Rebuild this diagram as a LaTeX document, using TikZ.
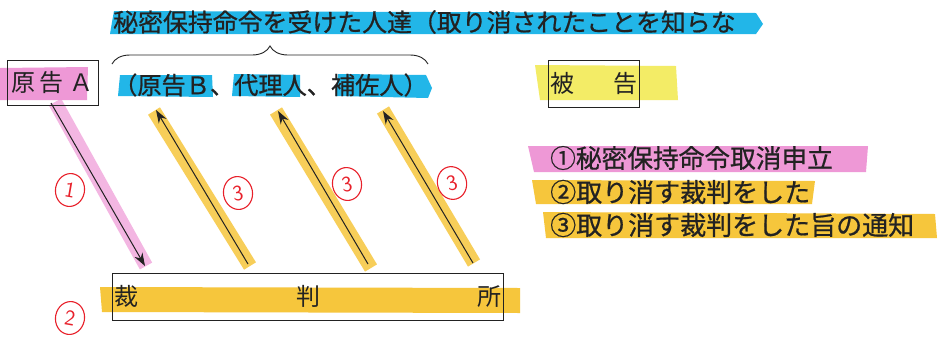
\documentclass[tikz,border=0pt]{standalone}
\usepackage{fontspec}
\newfontfamily\jp{Noto Sans CJK JP}
\newfontfamily\jpm[FakeBold=0.7]{Noto Sans CJK JP}
\usetikzlibrary{arrows.meta,decorations.pathreplacing,shapes.geometric}
\definecolor{cyanhl}{HTML}{22B6E8}
\definecolor{pinkhl}{HTML}{EE98D6}
\definecolor{yelhl}{HTML}{F6C63C}
\definecolor{lyelhl}{HTML}{F3EC66}
\definecolor{redpen}{HTML}{E8202A}
\definecolor{ink}{HTML}{222222}
\tikzset{
  jtext/.style={inner sep=0pt, text=ink, font=\jpm\fontsize{#1}{#1}\selectfont},
  jbox/.style={draw=ink, line width=0.9pt, inner sep=0pt, text=ink, font=\jp\fontsize{24}{24}\selectfont},
  arr/.style={draw=ink, line width=1pt, -{Stealth[length=13pt,width=9pt]}},
  hlstroke/.style={line width=14pt, opacity=0.85},
  circnum/.style={ellipse, draw=redpen, line width=1.1pt, minimum width=29pt, minimum height=33pt, inner sep=0pt, text=redpen, font=\sffamily\fontsize{22}{22}\selectfont}
}
\begin{document}
\begin{tikzpicture}[x=1pt,y=-1pt]
\useasboundingbox (0,0) rectangle (940,338);
\fill[white] (0,0) rectangle (940,338);

% highlights
\fill[cyanhl] (114,11) -- (756,13) -- (763,24) -- (756,34) -- (110,34) -- (112,22) -- cycle;
\fill[cyanhl] (120,75) -- (212,75) -- (213,97) -- (118,96) -- cycle;
\fill[cyanhl] (234,74) -- (300,75) -- (300,97) -- (232,96) -- cycle;
\fill[cyanhl] (338,74) -- (426,75) -- (432,88) -- (428,98) -- (336,96) -- cycle;
\fill[pinkhl] (0,68) -- (88,67) -- (87,100) -- (0,100) -- cycle;
\fill[lyelhl] (535,65) -- (676,66) -- (678,100) -- (540,100) -- cycle;
\fill[yelhl] (100,287) -- (520,288) -- (520,313) -- (102,312) -- cycle;
\fill[pinkhl] (528,146) -- (868,146) -- (866,172) -- (534,172) -- cycle;
\fill[yelhl] (532,180) -- (815,181) -- (812,204) -- (536,204) -- cycle;
\fill[yelhl] (543,212) -- (935,214) -- (937,238) -- (546,238) -- cycle;

\draw[pinkhl, hlstroke, opacity=0.7] (55,102) -- (146,266);
\draw[yelhl, hlstroke] (154,111) -- (250,266);
\draw[yelhl, hlstroke] (276,111) -- (371,268);
\draw[yelhl, hlstroke] (383,110) -- (474,263);

% texts
\node[jtext=24.9, anchor=west] (top) at (113,22) {秘密保持命令を受けた人達（取り消されたことを知らな};
\node[jtext=24.2, anchor=west] (grp) at (113,85) {（原告Ｂ、代理人、補佐人）};
\draw[ink, line width=0.9pt, decorate, decoration={brace, amplitude=18pt}] (112,64) -- (428,64) coordinate[midway] (bmid);

\node[jbox, minimum width=91pt, minimum height=45pt] (A) at (52.5,82.5) {原\hspace{4pt}告\hspace{6pt}Ａ};
\node[jbox, minimum width=91pt, minimum height=47pt] (def) at (593.5,83.5) {被\hspace{39pt}告};
\node[jbox, minimum width=391pt, minimum height=47pt] (court) at (307.5,296.5) {裁\hspace{158pt}判\hspace{157pt}所};

\node[jtext=25.7, anchor=west] (l1) at (550,158) {①秘密保持命令取消申立};
\node[jtext=26, anchor=west] (l2) at (550,192) {②取り消す裁判をした};
\node[jtext=26, anchor=west] (l3) at (550,225) {③取り消す裁判をした旨の通知};

% arrow end points
\coordinate (a1s) at (51,103);
\coordinate (a1e) at (145,266);
\coordinate (b1s) at (248,264);
\coordinate (b1e) at (156,110);
\coordinate (b2s) at (368,264);
\coordinate (b2e) at (278,111);
\coordinate (b3s) at (473,263);
\coordinate (b3e) at (383,111);

\draw[arr] (a1s) -- (a1e);
\draw[arr] (b1s) -- (b1e);
\draw[arr] (b2s) -- (b2e);
\draw[arr] (b3s) -- (b3e);

% red circled numbers
\node[circnum, rotate=-10] (n1) at (70,190) {1};
\node[circnum, rotate=10] (n3a) at (238,193) {3};
\node[circnum, rotate=10] (n3b) at (347,184) {3};
\node[circnum, rotate=15] (n3c) at (452,183) {3};
\node[circnum, rotate=-10] (n2) at (70,318) {2};
\end{tikzpicture}
\end{document}
